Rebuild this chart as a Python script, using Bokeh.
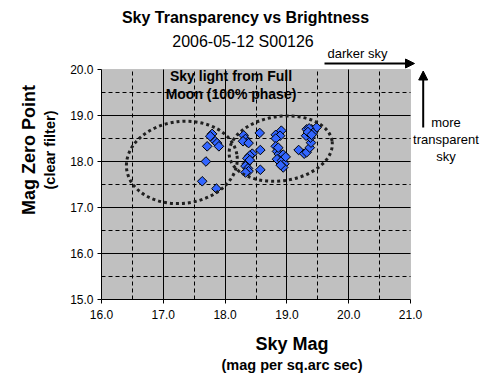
from bokeh.plotting import figure
from bokeh.models import (ColumnDataSource, FixedTicker, PrintfTickFormatter, Label,
                          Arrow, NormalHead, Range1d, BoxAnnotation, LinearAxis)
from bokeh.embed import file_html
from bokeh.resources import INLINE

# ---------------- data ----------------
sky_mag = [17.79, 17.76, 17.84, 17.87, 17.90, 17.71, 17.69, 17.63, 17.86,
           18.30, 18.33, 18.36, 18.29, 18.38, 18.44, 18.40, 18.36, 18.35, 18.33,
           18.37, 18.38, 18.33, 18.40, 18.56, 18.57, 18.57,
           18.82, 18.91, 18.89, 18.82, 18.82, 18.84, 18.87, 18.94, 18.84, 18.92,
           18.96, 18.94, 18.90, 18.98, 18.86,
           19.19, 19.28, 19.32, 19.37, 19.39, 19.38, 19.35, 19.40, 19.43, 19.48,
           19.32, 19.38, 19.31, 19.36, 19.42, 19.34, 19.40]
zero_point = [18.60, 18.55, 18.44, 18.40, 18.33, 18.33, 18.00, 17.57, 17.41,
              18.57, 18.49, 18.42, 18.44, 18.40, 18.17, 18.13, 18.07, 17.95, 17.90,
              17.85, 17.79, 17.76, 18.03, 18.62, 18.25, 17.82,
              18.58, 18.67, 18.56, 18.50, 18.33, 18.22, 18.16, 18.15, 18.05, 18.02,
              17.95, 17.87, 17.92, 18.10, 18.30,
              18.25, 18.17, 18.20, 18.30, 18.41, 18.52, 18.67, 18.70, 18.65, 18.74,
              18.70, 18.60, 18.56, 18.72, 18.62, 18.64, 18.58]

x_ticks = [16, 17, 18, 19, 20, 21]
y_ticks = [15, 16, 17, 18, 19, 20]
x_minor = [16.5, 17.5, 18.5, 19.5, 20.5]
y_minor = [15.5, 16.5, 17.5, 18.5, 19.5]
x_lim = (16, 21)
y_lim = (15, 20)

# ellipses drawn on the chart (center x, center y, width, height, angle)
ell_x = [17.30, 18.90]
ell_y = [17.98, 18.28]
ell_w = [1.80, 1.68]
ell_h = [1.78, 1.40]
ell_a = [0.12, 0.14]

FONT = "Liberation Sans"
W, H = 482, 384
LEFT, BOTTOM = 101, 85
PX_X, PX_Y = 61.8, 46.0   # pixels per unit

# the frame spans up to the top/right canvas edges so notes there are not clipped
p = figure(width=W, height=H, output_backend="svg", toolbar_location=None,
           title=None,
           x_range=Range1d(x_lim[0], x_lim[0] + (W - LEFT) / PX_X),
           y_range=Range1d(y_lim[0], y_lim[0] + (H - BOTTOM) / PX_Y),
           min_border_left=LEFT, min_border_right=0, min_border_top=0,
           min_border_bottom=BOTTOM)
p.border_fill_color = "white"
p.background_fill_color = "white"
p.outline_line_color = None

# grey plot area
p.add_layout(BoxAnnotation(left=x_lim[0], right=x_lim[1], bottom=y_lim[0],
                           top=y_lim[1], fill_color="#C0C0C0", fill_alpha=1,
                           line_color="#808080", line_width=1, level="image"))

# axes
for ax, ticks, lim in ((p.xaxis[0], x_ticks, x_lim), (p.yaxis[0], y_ticks, y_lim)):
    ax.ticker = FixedTicker(ticks=ticks)
    ax.bounds = lim
    ax.formatter = PrintfTickFormatter(format="%.1f")
    ax.axis_line_color = "black"
    ax.major_tick_line_color = "black"
    ax.major_tick_out = 4
    ax.major_tick_in = 0
    ax.minor_tick_line_color = None
    ax.major_label_text_font = FONT
    ax.major_label_text_font_size = "12px"
    ax.major_label_text_color = "black"
    ax.axis_label_text_font = FONT
    ax.axis_label_text_font_style = "bold"
    ax.axis_label_text_color = "black"
p.xaxis.major_label_standoff = 6
p.yaxis.major_label_standoff = 4
p.xaxis.axis_label = "Sky Mag"
p.xaxis.axis_label_text_font_size = "18px"
p.xaxis.axis_label_standoff = 12
p.yaxis.axis_label = "(clear filter)"
p.yaxis.axis_label_text_font_size = "14.5px"
p.yaxis.axis_label_standoff = 9


def label_axis(text, size, lim, standoff):
    a = LinearAxis(ticker=FixedTicker(ticks=[]), bounds=lim, axis_label=text,
                   axis_line_color=None, major_tick_line_color=None,
                   minor_tick_line_color=None, major_tick_out=0, major_tick_in=0,
                   major_label_standoff=0, axis_label_standoff=standoff,
                   axis_label_text_font=FONT, axis_label_text_font_size=size,
                   axis_label_text_font_style="bold",
                   axis_label_text_color="black")
    return a


p.add_layout(label_axis("(mag per sq.arc sec)", "14.5px", x_lim, 0), "below")
p.add_layout(label_axis("Mag Zero Point", "18px", y_lim, 1), "left")

# grids
p.xgrid.ticker = FixedTicker(ticks=[17, 18, 19, 20], minor_ticks=x_minor)
p.ygrid.ticker = FixedTicker(ticks=[16, 17, 18, 19], minor_ticks=y_minor)
p.xgrid.bounds = x_lim
p.xgrid.cross_bounds = y_lim
p.ygrid.bounds = y_lim
p.ygrid.cross_bounds = x_lim
for g in (p.xgrid[0], p.ygrid[0]):
    g.grid_line_color = "black"
    g.grid_line_width = 1
    g.grid_line_alpha = 1
    g.minor_grid_line_color = "black"
    g.minor_grid_line_dash = "4 3"
    g.minor_grid_line_width = 1

# data
src = ColumnDataSource(dict(x=sky_mag, y=zero_point))
p.scatter("x", "y", source=src, marker="square", angle=0.7854, size=6.8,
          fill_color="#3366FF", line_color="black", line_width=1)

# dotted ellipses
esrc = ColumnDataSource(dict(x=ell_x, y=ell_y, w=ell_w, h=ell_h, a=ell_a))
p.ellipse("x", "y", width="w", height="h", angle="a", source=esrc,
          fill_color=None, line_color="#202020", line_width=3, line_dash="3 3")


def lab(text, sx, sy, size, bold=False):
    p.add_layout(Label(x=sx, y=sy, x_units="screen", y_units="screen",
                       text=text, text_font=FONT, text_font_size=size,
                       text_font_style="bold" if bold else "normal",
                       text_align="center", text_baseline="middle",
                       text_color="black"))


# in-plot annotation (frame-relative screen coords)
lab("Sky light from Full", 129.5, 223.5, "14px", True)
lab("Moon (100% phase)", 129.5, 205.5, "14px", True)

# titles
lab("Sky Transparency vs Brightness", 144, 282, "16px", True)
lab("2006-05-12 S00126", 141.5, 258.5, "16px")

# direction notes
lab("darker sky", 256, 246, "13px")
p.add_layout(Arrow(x_start=223, y_start=236, x_end=313, y_end=236,
                   start_units="screen", end_units="screen", line_width=2,
                   line_color="black",
                   end=NormalHead(size=9, fill_color="black", line_color="black")))
lab("more", 344.5, 177, "13px")
lab("transparent", 344.5, 160.5, "13px")
lab("sky", 344.5, 143.5, "13px")
p.add_layout(Arrow(x_start=321.7, y_start=172, x_end=321.7, y_end=228.5,
                   start_units="screen", end_units="screen", line_width=2,
                   line_color="black",
                   end=NormalHead(size=9, fill_color="black", line_color="black")))

open("out.html", "w").write(file_html(p, INLINE))
